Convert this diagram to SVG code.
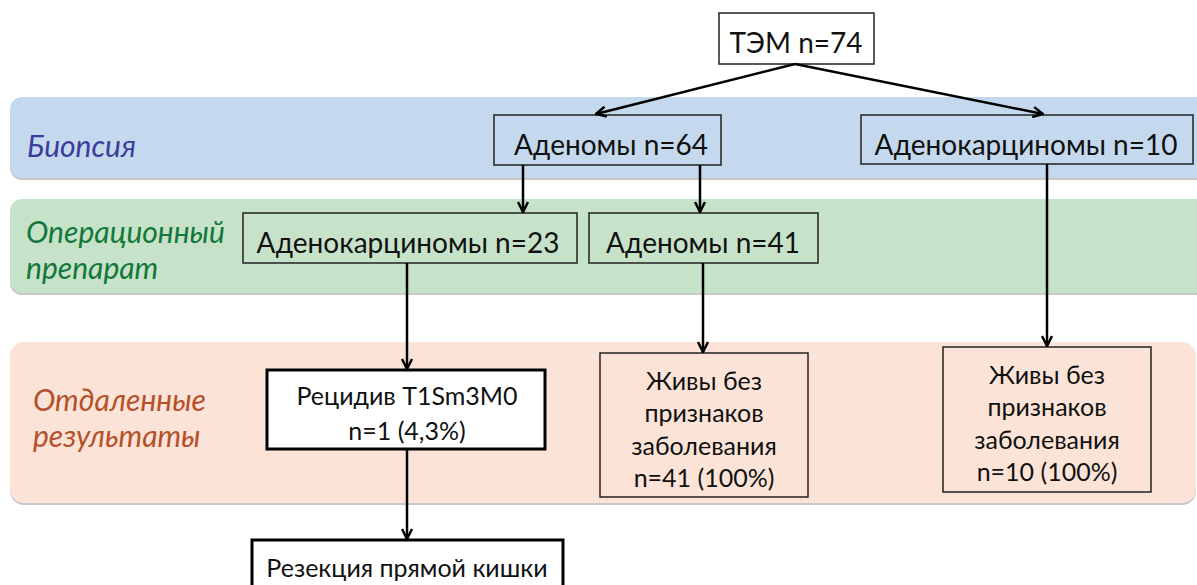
<svg xmlns="http://www.w3.org/2000/svg" width="1197" height="585" viewBox="0 0 1197 585">
<style>
.t{font-family:Lato,"Liberation Sans",sans-serif;font-size:28px;fill:#111;text-anchor:middle}
.s{font-family:Lato,"Liberation Sans",sans-serif;font-size:25px;fill:#111;text-anchor:middle}
.lab{font-family:Lato,"Liberation Sans",sans-serif;font-size:30px;font-style:italic}
.box{stroke:#222;stroke-width:1.5}
.thick{fill:#fff;stroke:#000;stroke-width:3}
.c{stroke:#000;stroke-width:2.5;fill:none;marker-end:url(#a)}
.sh{fill:#c8c8c8}
</style>
<defs>
<marker id="a" viewBox="0 0 12 12" refX="11" refY="6" markerWidth="12" markerHeight="12" markerUnits="userSpaceOnUse" orient="auto">
<path d="M1,1 L11,6 L1,11" fill="none" stroke="#000" stroke-width="2.5"/>
</marker>
</defs>
<g id="bands">
<rect class="sh" x="10" y="99" width="1200" height="81" rx="12"/>
<rect x="10" y="97" width="1200" height="81" rx="12" fill="#c5d9ee"/>
<rect class="sh" x="10" y="201" width="1200" height="94" rx="12"/>
<rect x="10" y="199" width="1200" height="94" rx="12" fill="#c6e3c9"/>
<rect class="sh" x="10" y="344" width="1186" height="161" rx="14"/>
<rect x="10" y="342" width="1186" height="161" rx="14" fill="#fbe4d7"/>
</g>
<g id="labels">
<text class="lab" x="27" y="157" fill="#3b3c9c">Биопсия</text>
<text class="lab" x="26" y="243" fill="#13773a">Операционный</text>
<text class="lab" x="26" y="279" fill="#13773a">препарат</text>
<text class="lab" x="33" y="411" fill="#b5502b">Отдаленные</text>
<text class="lab" x="33" y="447" fill="#b5502b">результаты</text>
</g>
<g id="n-tem">
<rect class="box" x="719" y="13" width="155" height="51" fill="#fff"/>
<text class="t" x="796" y="53">ТЭМ n=74</text>
</g>
<g id="n-aden64">
<rect class="box" x="494" y="115" width="227" height="50" fill="#c5d9ee"/>
<text class="t" x="611" y="155">Аденомы n=64</text>
</g>
<g id="n-adenoca10">
<rect class="box" x="861" y="115" width="332" height="49" fill="#c5d9ee"/>
<text class="t" x="1026" y="155">Аденокарциномы n=10</text>
</g>
<g id="n-adenoca23">
<rect class="box" x="243" y="213" width="334" height="50" fill="#c6e3c9"/>
<text class="t" x="408" y="253">Аденокарциномы n=23</text>
</g>
<g id="n-aden41">
<rect class="box" x="589" y="213" width="229" height="50" fill="#c6e3c9"/>
<text class="t" x="703" y="253">Аденомы n=41</text>
</g>
<g id="n-recid">
<rect class="thick" x="267" y="370" width="278" height="79"/>
<text class="s" x="407" y="405">Рецидив T1Sm3M0</text>
<text class="s" x="407" y="440">n=1 (4,3%)</text>
</g>
<g id="n-alive41">
<rect class="box" x="600" y="353" width="208" height="144" fill="#fbe4d7"/>
<text class="s" x="704" y="390">Живы без</text>
<text class="s" x="704" y="422">признаков</text>
<text class="s" x="704" y="455">заболевания</text>
<text class="s" x="704" y="487">n=41 (100%)</text>
</g>
<g id="n-alive10">
<rect class="box" x="943" y="347" width="208" height="145" fill="#fbe4d7"/>
<text class="s" x="1047" y="384">Живы без</text>
<text class="s" x="1047" y="416">признаков</text>
<text class="s" x="1047" y="449">заболевания</text>
<text class="s" x="1047" y="481">n=10 (100%)</text>
</g>
<g id="n-resect">
<rect class="thick" x="252" y="540" width="311" height="60"/>
<text class="s" x="407" y="577">Резекция прямой кишки</text>
</g>
<g id="connectors">
<path class="c" d="M795,64 L596,114"/>
<path class="c" d="M795,64 L1043,114"/>
<path class="c" d="M523,165 L523,212"/>
<path class="c" d="M700,165 L700,212"/>
<path class="c" d="M407,263 L407,369"/>
<path class="c" d="M703,263 L703,352"/>
<path class="c" d="M1047,164 L1047,346"/>
<path class="c" d="M407,449 L407,539"/>
</g>
</svg>
